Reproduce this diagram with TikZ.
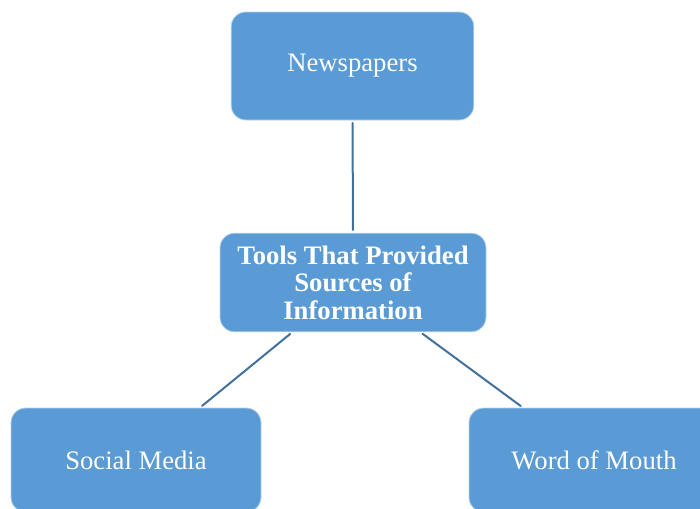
\documentclass[tikz,border=0pt]{standalone}
\usepackage{fontspec}
\setmainfont{Liberation Serif}
\definecolor{boxblue}{HTML}{5B9BD5}
\definecolor{lineblue}{HTML}{41719C}
\begin{document}
\begin{tikzpicture}[x=0.75pt,y=-0.75pt,line join=round,line cap=round,
	topic/.style={draw=white!55!boxblue,line width=0.6pt,fill=boxblue,rounded corners=11pt,text=white,font=\fontsize{20}{20.6}\selectfont,align=center,inner sep=0pt},
	link/.style={lineblue,line width=1.5pt,shorten <=2pt,shorten >=2pt}]
	\useasboundingbox (0,0) rectangle (700,508);
	\clip (0,0) rectangle (700,508);
	%Các ô
	\node[topic,minimum width=182pt,minimum height=81pt] (news) at (352.5,66) {Newspapers};
	\node[topic,minimum width=199.5pt,minimum height=74pt,font=\fontsize{20}{20.6}\selectfont\bfseries] (tools) at (353,282.5) {Tools That Provided\\Sources of\\Information};
	\node[topic,minimum width=187.5pt,minimum height=78pt] (social) at (136,460) {Social Media};
	\node[topic,minimum width=187.5pt,minimum height=78pt] (word) at (594,460) {Word of Mouth};
	%Các đường nối
	\draw[link] (news) -- (tools);
	\draw[link] (tools) -- (social);
	\draw[link] (tools) -- (word);
\end{tikzpicture}
\end{document}
